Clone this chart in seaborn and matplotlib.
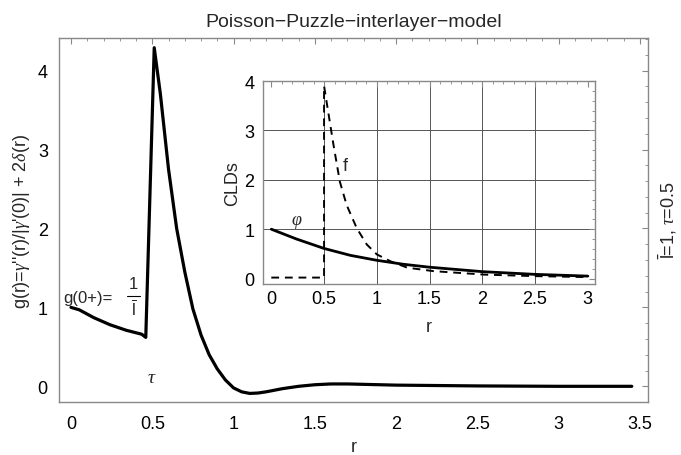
import matplotlib
matplotlib.use("Agg")
import matplotlib.pyplot as plt
from matplotlib.ticker import MultipleLocator
import seaborn as sns

# ---- data ----
# main curve g(r)
r_main = [0.0, 0.05, 0.14, 0.24, 0.34, 0.435, 0.46, 0.512, 0.55, 0.6, 0.65, 0.7,
          0.75, 0.8, 0.85, 0.9, 0.95, 1.0, 1.05, 1.1, 1.15, 1.2, 1.3, 1.4, 1.5,
          1.6, 1.7, 1.8, 2.0, 2.5, 3.0, 3.45]
g_main = [1.0, 0.97, 0.87, 0.78, 0.71, 0.66, 0.62, 4.29, 3.7, 2.75, 2.0, 1.45,
          0.98, 0.65, 0.4, 0.22, 0.08, -0.02, -0.07, -0.09, -0.085, -0.07, -0.03,
          0.0, 0.02, 0.03, 0.03, 0.025, 0.015, 0.005, 0.0, 0.0]

# inset: phi (solid) and f (dashed)
r_phi = [0.0, 0.24, 0.5, 0.75, 1.0, 1.25, 1.5, 2.0, 2.5, 3.0]
phi = [1.0, 0.80, 0.61, 0.47, 0.37, 0.29, 0.23, 0.14, 0.085, 0.05]
r_f = [0.0, 0.5, 0.5, 0.59, 0.65, 0.714, 0.81, 0.905, 1.0, 1.13, 1.29, 1.54,
       2.02, 2.49, 3.0]
f = [0.02, 0.02, 3.9, 2.7, 1.96, 1.49, 1.02, 0.69, 0.49, 0.35, 0.22, 0.15,
     0.08, 0.05, 0.03]

main_xticks = [0, 0.5, 1, 1.5, 2, 2.5, 3, 3.5]
main_yticks = [0, 1, 2, 3, 4]
inset_xticks = [0, 0.5, 1, 1.5, 2, 2.5, 3]
inset_yticks = [0, 1, 2, 3, 4]

# ---- style ----
sns.set_theme(style="white")
plt.rcParams["font.family"] = ["Liberation Sans", "DejaVu Sans"]
plt.rcParams["mathtext.fontset"] = "custom"
plt.rcParams["mathtext.rm"] = "Liberation Sans"
plt.rcParams["mathtext.it"] = "Liberation Serif:italic"
plt.rcParams["mathtext.bf"] = "Liberation Sans:bold"

fig = plt.figure(figsize=(6.81, 4.56), dpi=100)
ax = fig.add_axes([0.0866, 0.116, 0.865, 0.798])


def style_axes(a, xpad, ypad):
    for s in a.spines.values():
        s.set_color("#888888")
        s.set_linewidth(1.0)
    a.tick_params(which="both", direction="in", top=True, right=True,
                  color="#888888", labelsize=13, labelcolor="black")
    a.tick_params(which="major", length=4, width=0.8)
    a.tick_params(which="minor", length=2, width=0.6)
    a.tick_params(axis="x", which="major", pad=xpad)
    a.tick_params(axis="y", which="major", pad=ypad)


sns.lineplot(x=r_main, y=g_main, ax=ax, color="black", linewidth=2.3,
             sort=False, estimator=None)
ax.set_xlim(-0.074, 3.55)
ax.set_ylim(-0.2, 4.41)
ax.set_xticks(main_xticks)
ax.set_xticklabels([f"{v:g}" for v in main_xticks])
ax.set_yticks(main_yticks)
ax.xaxis.set_minor_locator(MultipleLocator(0.1))
ax.yaxis.set_minor_locator(MultipleLocator(0.2))
style_axes(ax, 9, 8)

ax.set_title("Poisson\u2212Puzzle\u2212interlayer\u2212model", fontsize=14, pad=9)
ax.set_xlabel("r", fontsize=13)
ax.xaxis.set_label_coords(0.5, -0.1)
ax.set_ylabel("g(r)=$\\gamma$''(r)/|$\\gamma$'(0)| + 2$\\delta$(r)", fontsize=13)
ax.yaxis.set_label_coords(-0.046, 0.5)

# g(0+) = 1 / l-bar, written as a stacked fraction
ax.text(-0.045, 1.13, "g(0+)=", fontsize=12, ha="left", va="center")
ax.text(0.385, 1.30, "1", fontsize=12, ha="center", va="center")
ax.plot([0.345, 0.425], [1.14, 1.14], color="black", linewidth=0.8)
ax.text(0.385, 1.0, r"$\overline{\rm l}$", fontsize=12, ha="center", va="center")
ax.text(0.5, 0.11, r"$\tau$", fontsize=14, ha="center", va="center")
fig.text(0.98, 0.517, r"$\bar{\rm l}$=1, $\tau$=0.5", rotation=90,
         fontsize=13, ha="center", va="center")

# ---- inset ----
ins = fig.add_axes([0.386, 0.375, 0.488, 0.445])
for xv in inset_xticks[1:-1]:
    ins.axvline(xv, color="#555555", linewidth=0.7, zorder=0)
for yv in inset_yticks[1:-1]:
    ins.axhline(yv, color="#555555", linewidth=0.7, zorder=0)
sns.lineplot(x=r_phi, y=phi, ax=ins, color="black", linewidth=2.0,
             sort=False, estimator=None)
sns.lineplot(x=r_f, y=f, ax=ins, color="black", linewidth=1.4,
             linestyle=(0, (4, 3)), sort=False, estimator=None)
ins.set_xlim(-0.08, 3.07)
ins.set_ylim(-0.11, 4.0)
ins.set_xticks(inset_xticks)
ins.set_xticklabels([f"{v:g}" for v in inset_xticks])
ins.set_yticks(inset_yticks)
ins.xaxis.set_minor_locator(MultipleLocator(0.1))
ins.yaxis.set_minor_locator(MultipleLocator(0.2))
style_axes(ins, 4, 6)
ins.set_xlabel("r", fontsize=13)
ins.xaxis.set_label_coords(0.5, -0.17)
ins.set_ylabel("CLDs", fontsize=13)
ins.yaxis.set_label_coords(-0.065, 0.5)
ins.text(0.24, 1.16, r"$\varphi$", fontsize=13, ha="center", va="center")
ins.text(0.70, 2.3, "f", fontsize=13, ha="center", va="center")

fig.savefig("out.png", dpi=100)
